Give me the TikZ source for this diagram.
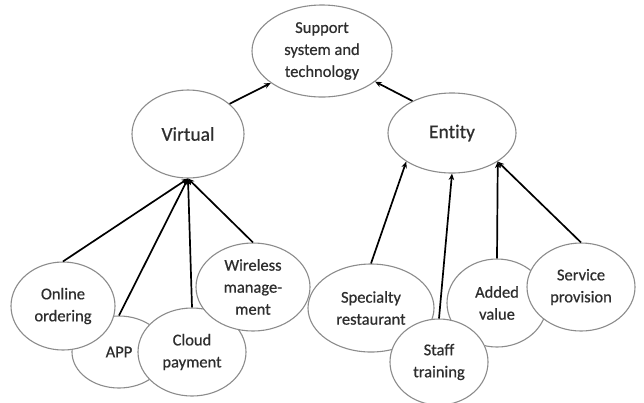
\documentclass[tikz,border=0pt]{standalone}
\usepackage{fontspec}
\setmainfont{Carlito}[RawFeature=-liga, FakeBold=0.6]
\usetikzlibrary{shapes.geometric,arrows.meta}
\definecolor{rim}{HTML}{8C8C8C}
\definecolor{ink}{HTML}{2E2E2E}
\tikzset{
  bubble/.style={ellipse, draw=rim, line width=1.1bp, fill=white, inner sep=0pt,
    align=center, text=ink, font=\fontsize{16.5bp}{22bp}\selectfont},
  bigbubble/.style={bubble, font=\fontsize{19.5bp}{24bp}\selectfont},
  link/.style={line width=1.7bp, draw=black, -{Stealth[length=6.5bp,width=5.5bp]}},
}
\begin{document}
\begin{tikzpicture}[x=1bp,y=-1bp]
\useasboundingbox (0,0) rectangle (644,402);
\fill[white] (0,0) rectangle (644,402);

% top level
\node[bubble, minimum width=140bp, minimum height=92bp] (support) at (322,51) {Support\\system and\\technology};
\node[bigbubble, minimum width=112bp, minimum height=88bp] (virtual) at (188,134) {Virtual};
\node[bigbubble, minimum width=128bp, minimum height=80bp] (entity) at (452,133) {Entity};

% virtual branch
\node[bubble, minimum width=94bp, minimum height=72bp] (app) at (119,352) {APP};
\node[bubble, minimum width=104bp, minimum height=88bp] (online) at (63,306) {Online\\ordering};
\node[bubble, minimum width=108bp, minimum height=88bp] (cloud) at (192,352) {Cloud\\payment};
\node[bubble, minimum width=114bp, minimum height=88bp] (wireless) at (253,287) {Wireless\\manage-\\ment};

% entity branch
\node[bubble, minimum width=126bp, minimum height=88bp] (specialty) at (371,308) {Specialty\\restaurant};
\node[bubble, minimum width=100bp, minimum height=88bp] (added) at (497,303) {Added\\value};
\node[bubble, minimum width=98bp, minimum height=86bp] (staff) at (439,362) {Staff\\training};
\node[bubble, minimum width=108bp, minimum height=88bp] (service) at (581,287) {Service\\provision};

% connectors
\draw[link] (virtual.36) -- (support.212);
\draw[link] (entity.141) -- (support.330);

\draw[link] (online.north) -- (virtual.south);
\draw[link] (app.north) -- (virtual.south);
\draw[link] (cloud.north) -- (virtual.south);
\draw[link] (wireless.north) -- (virtual.south);

\draw[link] (specialty.north) -- (entity.212);
\draw[link] (staff.north) -- (entity.south);
\draw[link] (added.north) -- (entity.328);
\draw[link] (service.north) -- (entity.328);
\end{tikzpicture}
\end{document}
